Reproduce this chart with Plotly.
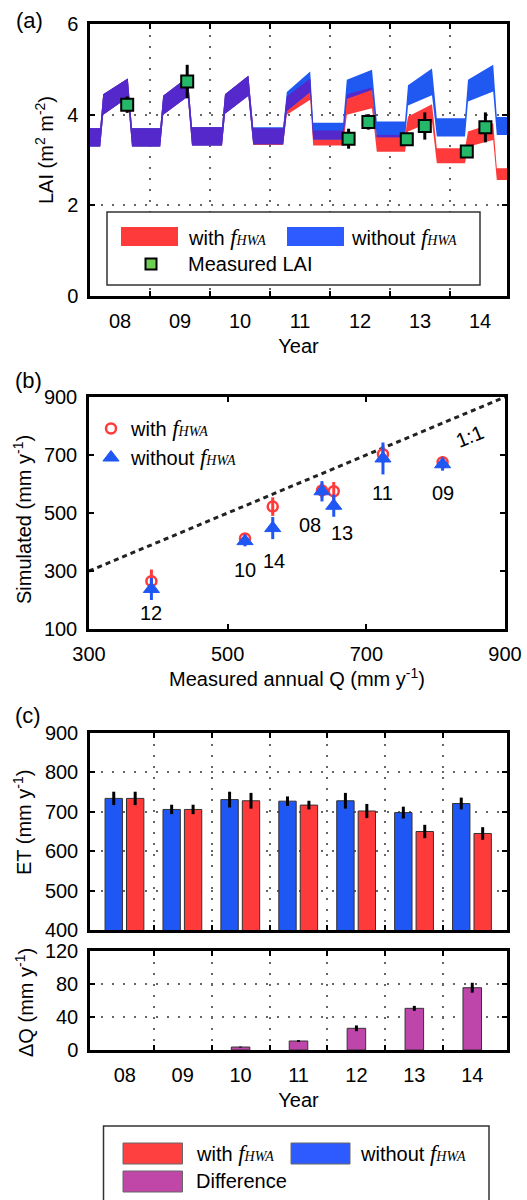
import plotly.graph_objects as go

W, H = 527, 1200
def px(x): return x / W
def py(y): return 1 - y / H

FONT = "Liberation Sans, Arial, sans-serif"
FHWA = ('<span style="font-family:Liberation Serif;font-style:italic;font-size:23px">f</span>'
        '<span style="font-family:Liberation Serif;font-style:italic;font-size:14px">HWA</span>')

# ---------------- (a) LAI data ----------------
lai_t = [2008.00, 2008.17, 2008.22, 2008.63, 2008.70,
         2009.17, 2009.22, 2009.63, 2009.70,
         2010.20, 2010.25, 2010.64, 2010.72,
         2011.22, 2011.28, 2011.67, 2011.72,
         2012.22, 2012.28, 2012.70, 2012.78,
         2013.25, 2013.30, 2013.70, 2013.78,
         2014.25, 2014.30, 2014.72, 2014.78, 2014.95]
without_lo = [3.30, 3.30, 4.00, 4.38, 3.30,
              3.30, 4.00, 4.40, 3.32,
              3.32, 4.02, 4.42, 3.35,
              3.35, 4.08, 4.50, 3.45,
              3.45, 4.35, 4.55, 3.50,
              3.50, 4.20, 4.43, 3.52,
              3.52, 4.29, 4.51, 3.55, 3.55]
without_hi = [3.70, 3.70, 4.45, 4.80, 3.70,
              3.70, 4.42, 4.83, 3.72,
              3.72, 4.45, 4.86, 3.72,
              3.72, 4.50, 4.95, 3.82,
              3.82, 4.77, 4.99, 3.85,
              3.85, 4.65, 5.02, 3.92,
              3.92, 4.77, 5.10, 3.95, 3.95]
with_lo = [3.30, 3.30, 4.00, 4.38, 3.30,
           3.30, 4.00, 4.40, 3.32,
           3.32, 4.02, 4.42, 3.33,
           3.33, 4.00, 4.33, 3.32,
           3.32, 4.00, 4.14, 3.18,
           3.18, 3.63, 3.85, 2.93,
           2.93, 3.29, 3.44, 2.56, 2.56]
with_hi = [3.70, 3.70, 4.45, 4.80, 3.70,
           3.70, 4.42, 4.83, 3.72,
           3.72, 4.45, 4.86, 3.70,
           3.70, 4.40, 4.80, 3.65,
           3.65, 4.45, 4.60, 3.55,
           3.55, 3.96, 4.23, 3.26,
           3.26, 3.63, 3.81, 2.82, 2.82]
meas_t = [2008.62, 2009.62, 2012.31, 2012.64, 2013.28, 2013.58, 2014.28, 2014.59]
meas_lai = [4.22, 4.73, 3.47, 3.84, 3.46, 3.75, 3.19, 3.72]
meas_err = [0.18, 0.37, 0.22, 0.17, 0.08, 0.30, 0.13, 0.33]
year_mid = [2008.5, 2009.5, 2010.5, 2011.5, 2012.5, 2013.5, 2014.5]
year_bound = [2009, 2010, 2011, 2012, 2013, 2014]
year_lbl = ['08', '09', '10', '11', '12', '13', '14']

# ---------------- (b) runoff data ----------------
q_meas = [636, 810, 525, 724, 390, 653, 565]
q_with = [578, 675, 412, 703, 265, 575, 522]
q_with_err = [25, 20, 15, 30, 40, 32, 32]
q_without = [575, 668, 403, 688, 238, 525, 448]
q_without_err = [35, 22, 18, 55, 38, 38, 38]
one_to_one = [300, 900]

# ---------------- (c) ET / dQ data ----------------
grp = [1, 2, 3, 4, 5, 6, 7]
grp_bound = [1.5, 2.5, 3.5, 4.5, 5.5, 6.5]
et_without = [734, 706, 731, 727, 728, 698, 721]
et_without_err = [17, 12, 20, 12, 20, 15, 15]
et_with = [734, 706, 728, 717, 702, 650, 645]
et_with_err = [17, 12, 20, 11, 18, 17, 16]
dq = [None, None, 3.6, 10.9, 26.3, 50.5, 75.5]
dq_err = [0, 0, 0.5, 1.0, 3.5, 3.0, 6.0]

# style
RED = 'rgb(255,58,58)'
BLUE_BAND = 'rgb(32,88,242)'
OVERLAP = 'rgb(84,40,202)'
BLUE = '#1F57F5'
PURPLE = '#BE45AA'
GREEN = '#24B868'
label_shift = [(-12, -34), (0, -29), (0, -29), (0, -35), (0, -24), (8, -27), (1, -33)]

# overlap of the two bands (where both ranges share values)
ov_lo = [max(a, b) for a, b in zip(with_lo, without_lo)]
ov_hi = [max(min(a, b), l) for a, b, l in zip(with_hi, without_hi, ov_lo)]

fig = go.Figure()

def band(lo, hi, color):
    fig.add_trace(go.Scatter(x=lai_t + lai_t[::-1], y=hi + lo[::-1], fill='toself',
                             fillcolor=color, line=dict(width=0), mode='lines',
                             showlegend=False, xaxis='x', yaxis='y', hoverinfo='skip'))

band(with_lo, with_hi, RED)
band(without_lo, without_hi, BLUE_BAND)
band(ov_lo, ov_hi, OVERLAP)

fig.add_trace(go.Scatter(x=meas_t, y=meas_lai, mode='markers',
                         marker=dict(symbol='square', size=12, color=GREEN,
                                     line=dict(color='black', width=2)),
                         error_y=dict(type='data', array=meas_err, color='black',
                                      thickness=3, width=0),
                         showlegend=False, xaxis='x', yaxis='y'))

# (b)
fig.add_trace(go.Scatter(x=one_to_one, y=one_to_one, mode='lines',
                         line=dict(color='#222', width=3, dash='5px,4px'),
                         showlegend=False, xaxis='x2', yaxis='y2'))
fig.add_trace(go.Scatter(x=q_meas, y=q_with, mode='markers', name='with ' + FHWA,
                         marker=dict(symbol='circle-open', size=10, color=RED,
                                     line=dict(color=RED, width=2.5)),
                         error_y=dict(type='data', array=q_with_err, color=RED,
                                      thickness=3, width=0),
                         xaxis='x2', yaxis='y2'))
fig.add_trace(go.Scatter(x=q_meas, y=q_without, mode='markers', name='without ' + FHWA,
                         marker=dict(symbol='triangle-up', size=14, color=BLUE,
                                     line=dict(color=BLUE, width=1)),
                         error_y=dict(type='data', array=q_without_err, color=BLUE,
                                      thickness=3, width=0),
                         xaxis='x2', yaxis='y2'))

# (c) ET bars
fig.add_trace(go.Bar(x=grp, y=et_without, width=0.30, offset=-0.34,
                     marker=dict(color=BLUE, line=dict(color='#333', width=1)),
                     error_y=dict(type='data', array=et_without_err, color='black',
                                  thickness=3, width=0),
                     showlegend=False, xaxis='x3', yaxis='y3'))
fig.add_trace(go.Bar(x=grp, y=et_with, width=0.30, offset=0.03,
                     marker=dict(color=RED, line=dict(color='#333', width=1)),
                     error_y=dict(type='data', array=et_with_err, color='black',
                                  thickness=3, width=0),
                     showlegend=False, xaxis='x3', yaxis='y3'))
fig.add_trace(go.Bar(x=grp, y=dq, width=0.32,
                     marker=dict(color=PURPLE, line=dict(color='#333', width=1)),
                     error_y=dict(type='data', array=dq_err, color='black',
                                  thickness=3, width=0),
                     showlegend=False, xaxis='x4', yaxis='y4'))

GRID = dict(showgrid=True, gridcolor='#666', gridwidth=1.5, griddash='2px,9px')
TF = dict(size=20, family=FONT, color='black')
base = dict(showline=True, linewidth=2.5, linecolor='black', mirror='allticks',
            ticks='inside', ticklen=5, tickwidth=2, tickcolor='black',
            tickfont=TF, zeroline=False, ticklabelstandoff=5, automargin=False)
XD = [px(90), px(507)]

def xyear(anchor, rng, mids, bounds, show_labels, title=None):
    d = dict(base)
    d.update(anchor=anchor, domain=XD, range=rng,
             tickmode='array', tickvals=mids, ticktext=year_lbl, ticks='',
             showticklabels=show_labels, showgrid=False,
             minor=dict(tickvals=bounds, ticks='inside', ticklen=5, tickwidth=2,
                        tickcolor='black', **GRID))
    if title:
        d['title'] = dict(text=title, font=TF, standoff=9)
    return d

fig.update_layout(
    template='none',
    width=W, height=H, margin=dict(l=0, r=0, t=0, b=0, pad=0, autoexpand=False),
    paper_bgcolor='white', plot_bgcolor='white',
    font=dict(family=FONT, size=20, color='black'),
    showlegend=True,
    legend=dict(x=px(91), y=py(409), xanchor='left', yanchor='top',
                bgcolor='rgba(0,0,0,0)', borderwidth=0, itemwidth=30,
                font=dict(size=20, family=FONT), tracegroupgap=0),
    xaxis=xyear('y', [2008, 2014.95], year_mid, year_bound, True, 'Year'),
    yaxis=dict(base, anchor='x', domain=[py(296), py(24)], range=[0, 6],
               tickvals=[0, 2, 4, 6], **GRID),
    xaxis2=dict(base, anchor='y2', domain=[px(89), px(505)], range=[300, 900],
                tickvals=[300, 500, 700, 900], showgrid=False,
                title=dict(text='Measured annual Q (mm y<sup>-1</sup>)', font=TF, standoff=4)),
    yaxis2=dict(base, anchor='x2', domain=[py(629), py(397)], range=[100, 900],
                tickvals=[100, 300, 500, 700, 900], showgrid=False),
    xaxis3=xyear('y3', [0.4, 7.6], grp, grp_bound, False),
    yaxis3=dict(base, anchor='x3', domain=[py(930), py(733)], range=[400, 900],
                tickvals=[400, 500, 600, 700, 800, 900], **GRID),
    xaxis4=xyear('y4', [0.4, 7.6], grp, grp_bound, True, 'Year'),
    yaxis4=dict(base, anchor='x4', domain=[py(1050), py(951)], range=[0, 120],
                tickvals=[0, 40, 80, 120], **GRID),
)

ann = []
shapes = []
for lab, (cx, cy) in zip(['(a)', '(b)', '(c)'], [(29, 20), (28, 380), (28, 715)]):
    ann.append(dict(text=lab, x=px(cx), y=py(cy), xref='paper', yref='paper',
                    xanchor='center', yanchor='middle',
                    showarrow=False, font=dict(size=22, family=FONT)))

# y-axis titles
for txt, (cx, cy) in zip(['LAI (m<sup>2</sup> m<sup>-2</sup>)', 'Simulated (mm y<sup>-1</sup>)',
                          'ET (mm y<sup>-1</sup>)', '\u0394Q (mm y<sup>-1</sup>)'],
                         [(44, 150), (22, 520), (22, 823), (24, 1003)]):
    ann.append(dict(text=txt, x=px(cx), y=py(cy), xref='paper', yref='paper',
                    xanchor='center', yanchor='middle', textangle=-90,
                    showarrow=False, font=TF))

# (b) year labels
for q, s, lab, (dx, dy) in zip(q_meas, q_without, year_lbl, label_shift):
    ann.append(dict(text=lab, x=q, y=s, xref='x2', yref='y2', showarrow=False,
                    xanchor='center', yanchor='middle',
                    xshift=dx, yshift=dy, font=dict(size=20, family=FONT)))
ann.append(dict(text='1:1', x=850, y=764, xref='x2', yref='y2', showarrow=False,
                xanchor='center', yanchor='middle',
                textangle=-22, font=dict(size=20, family=FONT)))

def box(x0, y0, x1, y1, fill, line='#333', lw=1.5):
    shapes.append(dict(type='rect', xref='paper', yref='paper',
                       x0=px(x0), x1=px(x1), y0=py(y1), y1=py(y0),
                       fillcolor=fill, line=dict(color=line, width=lw)))

def label(x, y, text):
    ann.append(dict(text=text, x=px(x), y=py(y), xref='paper', yref='paper',
                    xanchor='left', yanchor='middle', showarrow=False,
                    font=dict(size=20, family=FONT)))

# (a) legend
box(107, 212, 480, 285, 'white', '#333', 1.5)
box(121, 227, 178, 246, RED, 'rgba(0,0,0,0)', 0)
box(287, 227, 344, 246, '#2E5BFF', 'rgba(0,0,0,0)', 0)
box(145.5, 258.5, 156.5, 269.5, '#6FCF55', 'black', 2)
label(186, 237, 'with ' + FHWA)
label(349, 237, 'without ' + FHWA)
label(186, 264, 'Measured LAI')

# (c) legend
box(103.5, 1126, 489, 1210, 'white', '#333', 1.5)
box(123, 1143, 182.5, 1164, '#FF4040', '#666', 1)
box(291, 1143, 350, 1164, '#2E5BFF', '#666', 1)
box(123, 1171, 182.5, 1192, '#C046A8', '#666', 1)
label(194, 1153, 'with ' + FHWA)
label(358, 1153, 'without ' + FHWA)
label(194, 1181, 'Difference')

fig.update_layout(annotations=ann, shapes=shapes)
fig.write_html("out.html", config={'displayModeBar': False},
               post_script="document.body.style.margin='0';document.body.style.overflow='hidden';")
